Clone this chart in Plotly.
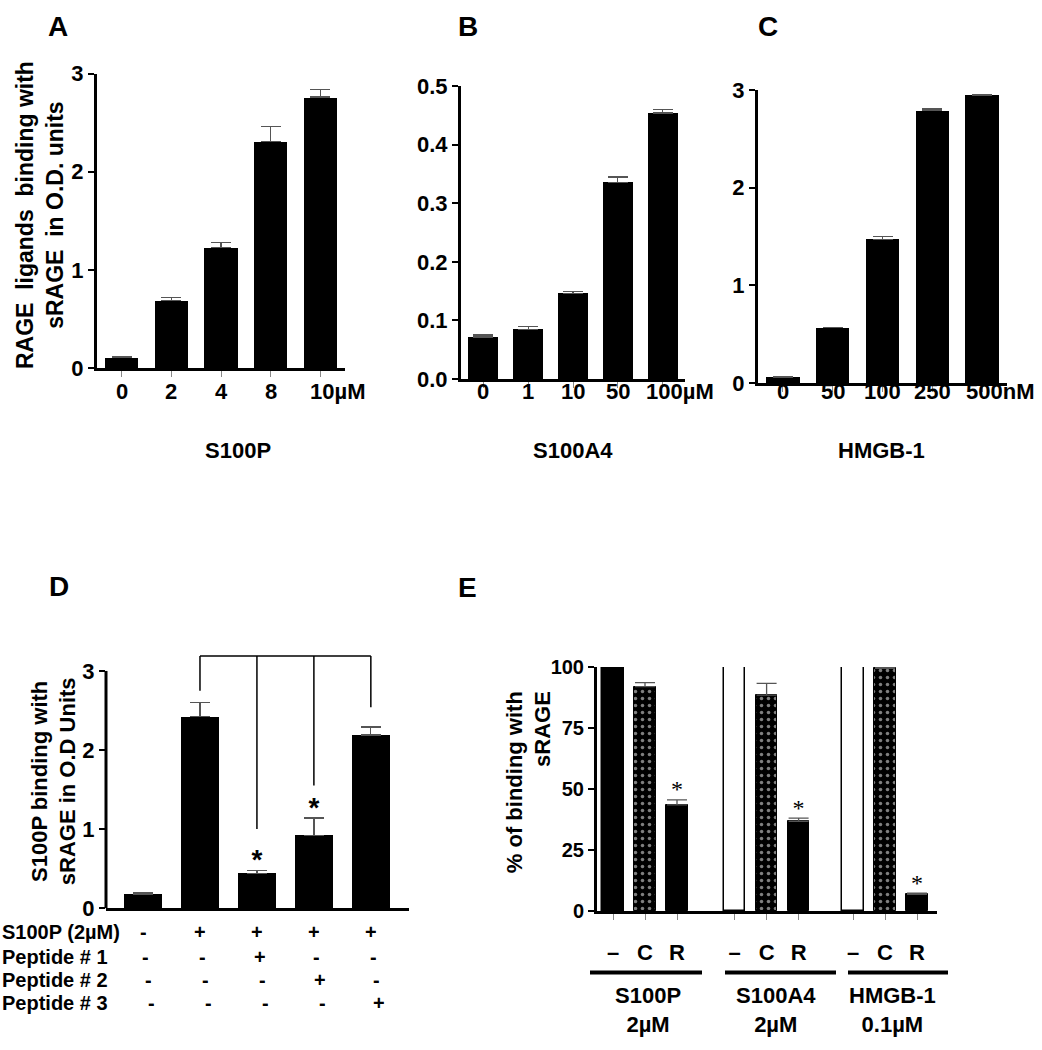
import plotly.graph_objects as go

W, H = 1042, 1050
FONT = "Liberation Sans, Arial, sans-serif"

# --- panels A-C: dose response of RAGE ligands binding with sRAGE (O.D.) ---
A_doses = ["0", "2", "4", "8", "10"]
A_unit = "µM"
A_od = [0.11, 0.69, 1.23, 2.31, 2.76]
A_err = [0.01, 0.03, 0.05, 0.15, 0.08]

B_doses = ["0", "1", "10", "50", "100"]
B_unit = "µM"
B_od = [0.072, 0.085, 0.146, 0.336, 0.454]
B_err = [0.003, 0.005, 0.004, 0.009, 0.006]

C_doses = ["0", "50", "100", "250", "500"]
C_unit = "nM"
C_od = [0.057, 0.567, 1.473, 2.79, 2.95]
C_err = [0.003, 0.004, 0.03, 0.015, 0.005]

# --- panel D: S100P binding with peptides ---
D_od = [0.18, 2.42, 0.44, 0.92, 2.19]
D_err = [0.01, 0.18, 0.04, 0.22, 0.10]
D_sig = [False, False, True, True, False]
D_rows = ["S100P (2µM)", "Peptide # 1", "Peptide # 2", "Peptide # 3"]
D_signs = [
    ["-", "+", "+", "+", "+"],
    ["-", "-", "+", "-", "-"],
    ["-", "-", "-", "+", "-"],
    ["-", "-", "-", "-", "+"],
]
D_bracket_top = 3.19
D_bracket_ends = [2.75, 1.0, 1.55, 2.54]  # drops onto bars 2..5

# --- panel E: % binding with sRAGE ---
E_ligands = ["S100P<br>2µM", "S100A4<br>2µM", "HMGB-1<br>0.1µM"]
E_treat = ["–", "C", "R"]
E_none = [100, 100, 100]
E_ctrl = [92.0, 88.5, 99.5]
E_ctrl_err = [1.6, 4.8, 0.5]
E_rage = [43.5, 36.8, 6.9]
E_rage_err = [2.1, 1.3, 0.4]


def X(p):
    return p / W


def Y(p):
    return 1 - p / H


def tf(size=22):
    return dict(family=FONT, size=size, color="black", weight="bold")


def yax(dom, rng, vals, fmt=None, anchor="x"):
    d = dict(domain=[Y(dom[0]), Y(dom[1])], range=rng, tickvals=vals,
             showline=True, linewidth=3, linecolor="black", showgrid=False,
             zeroline=False, ticks="outside", ticklen=6, tickwidth=2,
             tickcolor="black", tickfont=tf(), anchor=anchor)
    if fmt:
        d["tickformat"] = fmt
    return d


def xax(dom, rng, vals, anchor="y"):
    # tick labels are drawn as annotations so the unit can hang to the right
    return dict(domain=[X(dom[0]), X(dom[1])], range=rng, tickvals=vals,
                showticklabels=False, showline=True, linewidth=3,
                linecolor="black", showgrid=False, zeroline=False,
                ticks="outside", ticklen=6, tickwidth=1, tickcolor="#888",
                anchor=anchor)


def err(vals):
    return dict(type="data", array=vals, arrayminus=[0] * len(vals),
                symmetric=False, color="#555", thickness=1.3, width=10)


fig = go.Figure()
annots = []
shapes = []

panels = [
    ("x", "y", A_doses, A_unit, A_od, A_err),
    ("x2", "y2", B_doses, B_unit, B_od, B_err),
    ("x3", "y3", C_doses, C_unit, C_od, C_err),
]
for xa, ya, doses, unit, od, e in panels:
    xs = list(range(len(doses)))
    fig.add_trace(go.Bar(x=xs, y=od, error_y=err(e), marker_color="black",
                         marker_line_width=0, width=0.67, xaxis=xa, yaxis=ya,
                         showlegend=False))
    for i, d in enumerate(doses):
        last = i == len(doses) - 1
        annots.append(dict(text=d + unit if last else d, xref=xa, yref="paper",
                           x=i, y=Y(389), yanchor="middle",
                           xanchor="left" if last else "center",
                           xshift=-0.556 * 22 * len(d) / 2 if last else 0,
                           showarrow=False, font=tf()))

# panel D
dx = list(range(len(D_od)))
fig.add_trace(go.Bar(x=dx, y=D_od, error_y=err(D_err), marker_color="black",
                     marker_line_width=0, width=0.67, xaxis="x4", yaxis="y4",
                     showlegend=False))
sx = [i for i in dx if D_sig[i]]
fig.add_trace(go.Scatter(x=sx, y=[D_od[i] + D_err[i] + 0.1 for i in sx],
                         mode="text", text=["*"] * len(sx),
                         textfont=tf(28), xaxis="x4", yaxis="y4",
                         showlegend=False, cliponaxis=False))
bx = [1, 1, None, 1, 4, None]
by = [D_bracket_ends[0], D_bracket_top, None, D_bracket_top, D_bracket_top, None]
for i, end in enumerate(D_bracket_ends[1:], start=2):
    bx += [i, i, None]
    by += [D_bracket_top, end, None]
fig.add_trace(go.Scatter(x=bx, y=by, mode="lines",
                         line=dict(color="black", width=1.5),
                         xaxis="x4", yaxis="y4", showlegend=False))

# panel E
offsets = [0, 3.8, 7.5]
ex = [[o + k for o in offsets] for k in range(3)]
fig.add_trace(go.Bar(x=ex[0], y=E_none,
                     marker=dict(color=["black", "white", "white"],
                                 line=dict(color="black", width=1.5)),
                     width=0.68, xaxis="x5", yaxis="y5", showlegend=False,
                     cliponaxis=False))
fig.add_trace(go.Bar(x=ex[1], y=E_ctrl, error_y=err(E_ctrl_err),
                     marker=dict(color="black", line=dict(color="black", width=1),
                                 pattern=dict(shape=".", fgcolor="white",
                                              bgcolor="black", size=7,
                                              solidity=0.2, fillmode="overlay")),
                     width=0.68, xaxis="x5", yaxis="y5", showlegend=False,
                     cliponaxis=False))
fig.add_trace(go.Bar(x=ex[2], y=E_rage, error_y=err(E_rage_err),
                     marker=dict(color="black", line=dict(color="black", width=1)),
                     width=0.68, xaxis="x5", yaxis="y5", showlegend=False))
fig.add_trace(go.Scatter(x=ex[2], y=[v + e + 3.5 for v, e in zip(E_rage, E_rage_err)],
                         mode="text", text=["*"] * 3,
                         textfont=dict(family="Liberation Serif", size=24, color="black"),
                         xaxis="x5", yaxis="y5", showlegend=False, cliponaxis=False))

# D axis line and table of treatments
shapes.append(dict(type="line", xref="x4 domain", yref="y4 domain", x0=0, x1=0,
                   y0=0, y1=3 / 3.25, line=dict(color="black", width=3)))
row_y = [942, 968, 992, 1015]
for r, (lab, signs) in enumerate(zip(D_rows, D_signs)):
    annots.append(dict(text=lab, xref="paper", yref="paper", x=0, y=Y(row_y[r]),
                       xanchor="left", yanchor="middle", showarrow=False, font=tf(20)))
    for i, s in enumerate(signs):
        annots.append(dict(text=s, xref="x4", yref="paper", x=i + 0.05 * r,
                           y=Y(row_y[r]), xanchor="center", yanchor="middle",
                           height=20, showarrow=False, font=tf(20)))

# E group underlines and names
for (x0, x1), lab, cx in zip([(590, 702), (725, 836), (848, 948)], E_ligands,
                             [648, 776, 892]):
    shapes.append(dict(type="line", xref="paper", yref="paper", x0=X(x0), x1=X(x1),
                       y0=Y(984), y1=Y(984), line=dict(color="black", width=4)))
    annots.append(dict(text=lab, xref="paper", yref="paper", x=X(cx), y=Y(1022),
                       xanchor="center", yanchor="middle", showarrow=False,
                       font=tf(22)))

# panel letters and axis titles
for t, px_, py_ in [("A", 58, 15), ("B", 468, 15), ("C", 768, 15),
                    ("D", 59, 589), ("E", 467, 590)]:
    annots.append(dict(text=t, xref="paper", yref="paper", x=X(px_), y=Y(py_),
                       xanchor="center", yanchor="middle", showarrow=False,
                       font=tf(28)))
for t, px_, py_ in [("S100P", 238, 449), ("S100A4", 573, 449), ("HMGB-1", 881, 449)]:
    annots.append(dict(text=t, xref="paper", yref="paper", x=X(px_), y=Y(py_),
                       xanchor="center", yanchor="middle", showarrow=False,
                       font=tf(22)))
annots.append(dict(text="RAGE  ligands  binding with<br>sRAGE  in O.D. units",
                   textangle=-90, xref="paper", yref="paper", x=X(40), y=Y(208),
                   xanchor="center", yanchor="middle", showarrow=False, font=tf(23)))
annots.append(dict(text="S100P binding with<br>sRAGE in O.D Units",
                   textangle=-90, xref="paper", yref="paper", x=X(54), y=Y(788),
                   xanchor="center", yanchor="middle", showarrow=False, font=tf(22)))
annots.append(dict(text="% of binding with<br>sRAGE", align="right",
                   textangle=-90, xref="paper", yref="paper", x=X(529), y=Y(789),
                   xanchor="center", yanchor="middle", showarrow=False, font=tf(22)))

e_ticks = [v for k in range(3) for v in [offsets[k] + j for j in range(3)]]
fig.update_layout(
    width=W, height=H, margin=dict(l=0, r=0, t=0, b=0),
    paper_bgcolor="white", plot_bgcolor="white", bargap=0,
    xaxis=xax((97, 345), [-0.5, 4.5], list(range(5)), "y"),
    yaxis=yax((365, 63), [0, 3], [0, 1, 2, 3], anchor="x"),
    xaxis2=xax((461, 685), [-0.5, 4.5], list(range(5)), "y2"),
    yaxis2=yax((376, 76), [0, 0.5], [0, 0.1, 0.2, 0.3, 0.4, 0.5], ".1f", "x2"),
    xaxis3=xax((758, 1007), [-0.5, 4.5], list(range(5)), "y3"),
    yaxis3=yax((380, 80), [0, 3], [0, 1, 2, 3], anchor="x3"),
    xaxis4=dict(domain=[X(106), X(409)], range=[-0.65, 4.67], showline=True,
                linewidth=3, linecolor="black", showgrid=False, zeroline=False,
                ticks="", showticklabels=False, anchor="y4"),
    yaxis4=dict(domain=[Y(918), Y(918 - 3.25 * 81)], range=[0, 3.25],
                tickvals=[0, 1, 2, 3], showline=False, showgrid=False,
                zeroline=False, ticks="outside", ticklen=6, tickwidth=2,
                tickcolor="black", tickfont=tf(), anchor="x4"),
    xaxis5=dict(domain=[X(597), X(937)], range=[-0.5, 10.125], tickvals=e_ticks,
                ticktext=E_treat * 3, showline=True, linewidth=3, linecolor="black",
                showgrid=False, zeroline=False, ticks="outside", ticklen=6,
                tickwidth=1, tickcolor="#888", tickfont=tf(), ticklabelstandoff=14,
                anchor="y5"),
    yaxis5=dict(domain=[Y(921), Y(671)], range=[0, 100],
                tickvals=[0, 25, 50, 75, 100], showline=True, linewidth=3,
                linecolor="black", showgrid=False, zeroline=False, ticks="outside",
                ticklen=6, tickwidth=2, tickcolor="black", tickfont=tf(20),
                anchor="x5"),
    annotations=annots,
    shapes=shapes,
)

# drop the browser's default body margin so the figure sits at the page corner
fig.write_html("out.html", config={"displayModeBar": False},
               post_script="document.body.style.margin='0';"
                           "document.body.style.overflow='hidden';")
